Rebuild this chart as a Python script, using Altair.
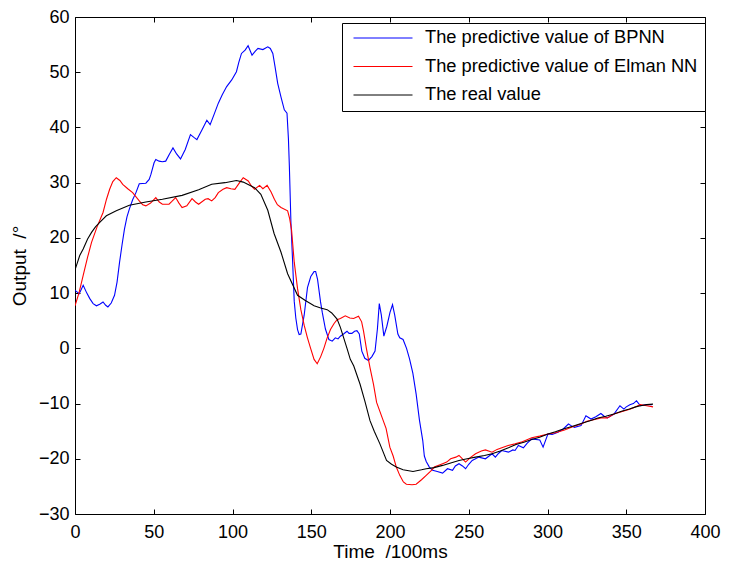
import altair as alt
import pandas as pd

names = ["The predictive value of BPNN", "The predictive value of Elman NN", "The real value"]
colors = ["#0000ff", "#ff0000", "#000000"]

real_t = [0, 3, 5.2, 8, 10.5, 13, 15.7, 19.9, 26.2, 34.5, 45, 55.5, 68, 78.5, 86.8, 95.2,
          102.5, 106.8, 114, 118, 122.4, 126.4, 130.8, 135, 141.3, 146, 151.8, 156, 160.1,
          163, 166.4, 168.5, 170.6, 172.7, 174.8, 177, 181, 184, 187.3, 190, 193.6, 197.8,
          201, 204, 208.3, 214.6, 220, 223, 228, 233.4, 238, 243.8, 249, 254.3, 260, 264.8,
          270, 275.2, 280, 285, 290, 295, 300.3, 305, 310, 316, 321.3, 327, 332, 337, 342.2,
          347, 352, 356, 359, 363, 367]
real_v = [14.2, 16.8, 18.0, 19.8, 21.0, 22.0, 22.8, 24.0, 24.9, 25.9, 26.5, 27.0, 27.7, 28.7,
          29.7, 30.0, 30.4, 30.1, 29.1, 27.9, 25.0, 20.8, 17.4, 13.5, 9.6, 8.7, 7.7, 7.3, 7.0,
          6.4, 5.3, 3.8, 1.9, 0.0, -2.0, -3.2, -6.5, -9.5, -13.1, -15.0, -17.3, -20.3,
          -21.0, -21.5, -22.0, -22.3, -22.0, -21.8, -21.6, -21.2, -20.8, -20.3, -20.0, -19.7,
          -19.4, -19.1, -18.6, -18.0, -17.4, -17.0, -16.5, -16.1, -15.5, -15.1, -14.6, -14.1,
          -13.6, -13.1, -12.6, -12.3, -11.9, -11.4, -11.0, -10.6, -10.4, -10.2, -10.1]

elman_t = [0, 2.5, 5.2, 8, 10.5, 14, 17.8, 20, 22, 24, 26.2, 28.5, 30.3, 33.5, 36.6, 40.8, 43,
           45, 48, 51.3, 53.5, 55.5, 59.7, 61.5, 63.9, 66, 68, 71, 74.3, 76.5, 78.5, 82.7,
           84.5, 86.8, 89, 91, 94, 96.3, 99, 101.5, 104.5, 106.8, 110, 112, 114, 117.2, 119.3,
           122, 124.5, 126.6, 128.5, 130.8, 135, 136.3, 137.5, 139.2, 141.3, 143.4, 145.5,
           147.5, 149.6, 151.8, 153.8, 156, 158, 160, 162.2, 164.5, 166.4, 168.5, 171.6,
           174.5, 176.9, 180, 182, 183.2, 185, 187.3, 189.5, 191.5, 195.7, 197.5, 199.9, 202,
           204, 206.2, 208.5, 210.4, 214, 216.6, 220, 223, 226, 228.1, 233.4, 236, 238.5,
           241.8, 243.8, 246, 248, 251, 254.3, 258, 260.6, 264.8, 268, 271, 275, 279.4, 284,
           290, 295, 300.3, 305, 310.8, 316, 321.3, 325, 330, 334, 338, 342.2, 347, 352.7,
           356, 359, 363, 367]
elman_v = [7.7, 10.0, 13.2, 16.5, 19.2, 22.0, 24.6, 27.0, 28.8, 30.2, 30.9, 30.4, 29.7, 28.9,
           28.2, 26.7, 26.0, 25.8, 26.3, 27.3, 26.5, 26.1, 26.1, 26.6, 27.3, 26.3, 25.5, 25.8,
           27.1, 26.5, 26.1, 27.0, 27.1, 26.7, 27.3, 28.2, 28.8, 29.1, 28.9, 28.8, 30.0, 30.9,
           30.3, 29.4, 28.8, 29.5, 28.9, 29.5, 28.3, 27.0, 26.0, 25.5, 24.9, 23.5, 21.4, 15.6,
           10.8, 7.0, 4.2, 2.0, 0.0, -2.0, -2.8, -1.5, 0.0, 1.8, 3.4, 4.5, 5.2, 5.4, 5.9, 5.5,
           5.4, 5.8, 4.8, 3.1, 0.0, -3.5, -6.5, -9.8, -13.1, -14.5, -17.9, -19.5, -21.5, -23.0,
           -24.2, -24.6, -24.7, -24.6, -23.8, -23.0, -22.2, -21.5, -20.9, -20.6, -20.0, -19.7,
           -19.4, -20.0, -20.6, -19.8, -19.1, -18.6, -18.4, -18.8, -18.3, -18.0, -17.6, -17.3,
           -16.9, -16.2, -15.9, -15.5, -15.3, -14.8, -14.2, -13.7, -13.2, -12.9, -12.6, -12.6,
           -11.9, -11.5, -11.0, -10.6, -10.2, -10.4, -10.6]

bp_t = [0, 2.7, 5.2, 7.5, 9.4, 11.5, 13.6, 15.7, 17.8, 19.5, 20.9, 23, 25.1, 26.7, 28.3, 29.9,
        31.4, 33, 34.5, 36.6, 38.7, 40.8, 45, 47.1, 48.2, 50.2, 51.3, 53.4, 55.5, 57.6, 60,
        62.2, 64.5, 67, 70, 73.3, 75.5, 77.4, 80.5, 83.7, 85.8, 88.5, 91, 93.5, 96.3, 99.5,
        102.5, 104, 105.7, 108, 109.9, 112.4, 114.5, 116.2, 119.3, 122.4, 124, 125.6, 127,
        128.7, 130.8, 132.9, 134.6, 135.5, 136.1, 137.1, 138.2, 139.2, 140.2, 141.3, 142.3,
        143.4, 145.5, 147.6, 149.7, 151.8, 152.8, 154, 155.9, 157, 159, 161.2, 163.3, 165.3,
        167, 168.5, 170.5, 172.7, 174, 175.8, 177.5, 179, 180.5, 182.1, 184, 186.3, 188.5,
        190.5, 192, 193.2, 194.5, 196.1, 198, 200, 201.6, 203, 205, 206.2, 208.3, 210.5,
        212.4, 214.5, 216.6, 218.7, 220.8, 221.8, 223, 225, 227.1, 230, 233.4, 236.5, 239.7,
        241.5, 243.8, 246, 248, 250, 252.2, 256.4, 260.6, 264.8, 266.9, 269, 271, 275.2, 278,
        279.4, 281.5, 284.7, 287, 290, 295.1, 297.2, 300.3, 303, 306.6, 310, 313.3, 315,
        317.1, 321.3, 324.4, 327.6, 330.7, 333.9, 336, 338, 342.2, 346, 348.5, 350, 352.3,
        354.5, 356.5, 359, 363.1, 366.3]
bp_v = [10.5, 9.9, 11.4, 10.0, 9.0, 8.1, 7.7, 8.0, 8.4, 7.8, 7.5, 8.2, 9.6, 12.0, 15.6, 18.8,
        21.6, 23.8, 25.2, 26.9, 28.2, 29.8, 29.9, 30.6, 31.5, 33.6, 34.2, 33.9, 33.8, 33.9,
        35.2, 36.3, 35.2, 34.3, 36.0, 38.7, 38.2, 37.8, 39.5, 41.3, 40.5, 42.5, 44.4, 45.9,
        47.4, 48.6, 50.1, 51.8, 53.4, 54.0, 54.8, 53.1, 53.8, 54.3, 54.1, 54.6, 54.3, 53.4,
        51.0, 48.0, 45.5, 43.2, 42.6, 38.0, 33.0, 22.8, 15.5, 8.5, 5.5, 3.4, 2.5, 2.6, 6.0,
        11.0, 13.0, 13.9, 13.9, 12.5, 8.4, 6.5, 3.5, 1.6, 1.3, 1.9, 1.7, 2.2, 2.6, 3.1, 2.7,
        2.7, 3.1, 3.2, 2.6, -0.5, -1.8, -2.2, -1.5, -0.5, 3.5, 8.1, 6.0, 2.2, 4.0, 6.5, 7.9,
        6.0, 2.6, 1.9, 1.6, 0.0, -1.9, -4.5, -8.3, -13.0, -16.7, -19.5, -20.5, -21.5, -22.1,
        -22.3, -22.6, -21.8, -22.1, -21.3, -20.9, -21.3, -21.8, -21.0, -20.3, -19.7, -20.0,
        -19.1, -19.7, -19.0, -18.5, -18.8, -18.4, -18.5, -17.6, -18.0, -17.2, -16.4, -16.6,
        -17.9, -15.5, -15.6, -15.2, -14.6, -13.7, -14.0, -14.3, -14.0, -12.2, -12.8, -12.4,
        -11.8, -12.3, -12.6, -11.9, -10.4, -11.0, -10.6, -10.2, -10.0, -9.5, -10.4, -10.2,
        -10.2]

x_ticks = [0, 50, 100, 150, 200, 250, 300, 350, 400]
y_ticks = [-30, -20, -10, 0, 10, 20, 30, 40, 50, 60]

x_title = "Time\u00a0\u00a0/100ms"
y_title = "Output\u00a0\u00a0/°"

rows = []
for name, ts, vs in [(names[0], bp_t, bp_v), (names[1], elman_t, elman_v), (names[2], real_t, real_v)]:
    for i, (t, v) in enumerate(zip(ts, vs)):
        rows.append({"series": name, "t": t, "v": v, "idx": i})
df = pd.DataFrame(rows)

FONT = "Liberation Sans"
xscale = alt.Scale(domain=[0, 400], nice=False, zero=False)
yscale = alt.Scale(domain=[-30, 60], nice=False, zero=False)

base = alt.Chart(df)

main = base.mark_line(strokeWidth=1.1, clip=True).encode(
    x=alt.X("t:Q", scale=xscale,
            axis=alt.Axis(orient="bottom", title=x_title, values=x_ticks, tickSize=0,
                          labelPadding=9, domain=False, grid=False, labelFontSize=18,
                          titleFontSize=19, titleFontWeight="normal", labelFont=FONT,
                          titleFont=FONT, labelColor="black", titleColor="black",
                          titlePadding=1, labelFlush=False)),
    y=alt.Y("v:Q", scale=yscale,
            axis=alt.Axis(orient="left", title=y_title, values=y_ticks, tickSize=0,
                          labelPadding=6, domain=False, grid=False, labelFontSize=18,
                          titleFontSize=19, titleFontWeight="normal", labelFont=FONT,
                          titleFont=FONT, labelColor="black", titleColor="black",
                          titlePadding=9, labelFlush=False)),
    color=alt.Color("series:N", scale=alt.Scale(domain=names, range=colors),
                    legend=alt.Legend(title=None, orient="none", legendX=267, legendY=6,
                                      strokeColor="black", fillColor="white", padding=7,
                                      symbolType="stroke", symbolSize=3481,
                                      symbolStrokeWidth=1, symbolOffset=4,
                                      labelFontSize=18.3, labelFont=FONT,
                                      labelColor="black", labelOffset=12, clipHeight=16,
                                      rowPadding=9.5, labelLimit=400)),
    order="idx:Q",
)

tick_axis = dict(offset=-5, tickSize=5, labels=False, domain=False, title=None, grid=False,
                 tickColor="black", tickWidth=1)

ticks_a = base.mark_line(opacity=0).encode(
    x=alt.X("t:Q", scale=xscale, axis=alt.Axis(orient="bottom", values=x_ticks, **tick_axis)),
    y=alt.Y("v:Q", scale=yscale, axis=alt.Axis(orient="left", values=y_ticks, **tick_axis)),
    detail="series:N",
)
ticks_b = base.mark_line(opacity=0).encode(
    x=alt.X("t:Q", scale=xscale, axis=alt.Axis(orient="top", values=x_ticks, **tick_axis)),
    y=alt.Y("v:Q", scale=yscale, axis=alt.Axis(orient="right", values=y_ticks, **tick_axis)),
    detail="series:N",
)

chart = alt.layer(ticks_a, ticks_b, main).resolve_axis(
    x="independent", y="independent"
).properties(
    width=630, height=497,
    autosize=alt.AutoSizeParams(type="none"),
    padding={"left": 67, "top": 9, "right": 16, "bottom": 46},
    background="white",
).configure_view(stroke="black", strokeWidth=1)

chart.save("out.html", embed_options={"renderer": "svg", "actions": False})
